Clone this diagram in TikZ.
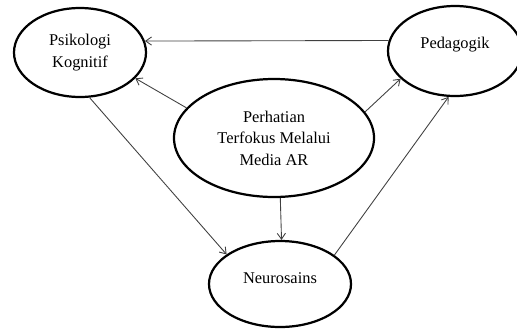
\documentclass[tikz,border=0pt]{standalone}
\usepackage{fontspec}
\setmainfont{Liberation Serif}
\usetikzlibrary{shapes.geometric,arrows.meta}
\def\px{0.03cm}
\tikzset{
  bubble/.style={draw, ellipse, line width=1.9pt, inner sep=0pt, align=center,
    font=\fontsize{14}{18.3}\selectfont},
  bubtext/.style={inner sep=0pt, align=center, font=\fontsize{14}{18.3}\selectfont},
  link/.style={draw=black!75, line width=0.75pt, -{Straight Barb[length=5pt,width=7pt]}}
}

\begin{document}
\begin{tikzpicture}[x=\px,y=-\px]
  %%%%% START %%%%%
  \useasboundingbox (0,0) rectangle (517,329);

  \node[bubble, minimum width=132*\px, minimum height=89*\px] (psi) at (80,52.5) {Psikologi\\Kognitif};
  \node[bubble, minimum width=134*\px, minimum height=90*\px] (ped) at (455,51) {};
  \node[bubtext] (pedtext) at (455,45) {Pedagogik};
  \node[bubble, minimum width=200*\px, minimum height=118*\px] (per) at (274,138) {Perhatian\\Terfokus Melalui\\Media AR};
  \node[bubble, minimum width=142*\px, minimum height=86*\px] (neu) at (280,284) {};
  \node[bubtext] (neutext) at (280,278) {Neurosains};

  \draw[link] (ped.171.4) -- (psi.10.1);
  \draw[link] (per.161.4) -- (psi.335.1);
  \draw[link] (per.16.6) -- (ped.207.8);
  \draw[link] (psi.282.5) -- (neu.151.2);
  \draw[link] (neu.28.1) -- (ped.262.3);
  \draw[link] (per.276.7) -- (neu.88.7);
  %%%%% END %%%%%
\end{tikzpicture}
\end{document}
